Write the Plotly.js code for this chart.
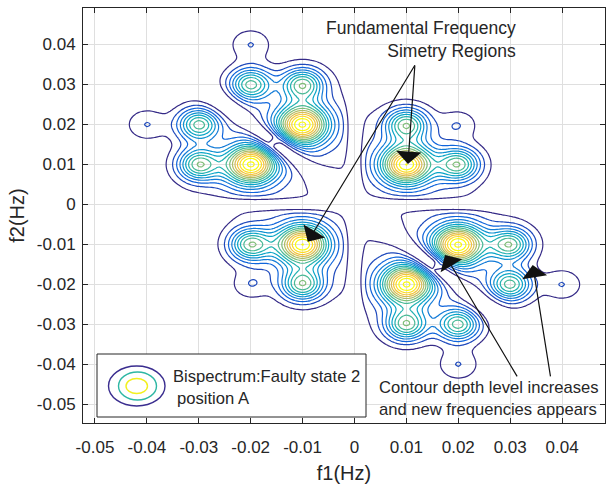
<!DOCTYPE html>
<html>
<head>
<meta charset="utf-8">
<script src="https://cdn.plot.ly/plotly-3.0.1.min.js"></script>
<style>
  html, body { margin: 0; padding: 0; background: #ffffff; }
  #chart { width: 606px; height: 485px; }
</style>
</head>
<body>
<div id="chart"></div>
<script>
// Bispectrum magnitude, modelled as peaks inside the six symmetry regions.
// Main (strongest) peak of each region
const mainF1 = [0.01, -0.01, -0.02, -0.01, 0.01, 0.02];
const mainF2 = [0.01, 0.02, 0.01, -0.01, -0.02, -0.01];
const mainAmp = [0.80, 0.80, 0.80, 0.80, 0.80, 0.80];
const mainWidth = [0.0033, 0.0033, 0.0033, 0.0033, 0.0033, 0.0033];

// Broad skirt around each main peak
const skirtAmp = [0.16, 0.16, 0.16, 0.16, 0.16, 0.16];
const skirtWidth = [0.0066, 0.0066, 0.0066, 0.0066, 0.0066, 0.0066];

// Secondary peaks (two per region)
const sideF1 = [0.02, 0.01, -0.01, -0.02, -0.03, -0.03, -0.02, -0.01, 0.01, 0.02, 0.03, 0.03];
const sideF2 = [0.01, 0.02, 0.03, 0.03, 0.01, 0.02, -0.01, -0.02, -0.03, -0.03, -0.01, -0.02];
const sideAmp = [0.52, 0.52, 0.52, 0.52, 0.52, 0.52, 0.52, 0.52, 0.52, 0.52, 0.52, 0.52];
const sideWidth = [0.0028, 0.0028, 0.0028, 0.0028, 0.0028, 0.0028, 0.0028, 0.0028, 0.0028, 0.0028, 0.0028, 0.0028];

// Weak outer components (the small "ears")
const earF1 = [0.02, -0.02, -0.04, -0.02, 0.02, 0.04];
const earF2 = [0.02, 0.04, 0.02, -0.02, -0.04, -0.02];
const earAmp = [0.10, 0.116, 0.116, 0.10, 0.116, 0.116];
const earWidth = [0.0024, 0.0026, 0.0026, 0.0024, 0.0026, 0.0026];

// Isolated small components lying on the f1 + f2 = 0 line
const gapF1 = [-0.0155, 0.016];
const gapF2 = [0.0157, -0.0155];
const gapAmp = [0.075, 0.075];
const gapWidth = [0.0007, 0.0007];

// Axis ticks
const tickVals = [-0.05, -0.04, -0.03, -0.02, -0.01, 0, 0.01, 0.02, 0.03, 0.04];
const xTickText = ['-0.05', '-0.04', '-0.03', '-0.02', '-0.01', '0', '0.01', '0.02', '0.03', '0.04'];
const yTickText = ['-0.05', '-0.04', '-0.03', '-0.02', '-0.01', '0', '0.01', '0.02', '0.03', '0.04'];

// Contour levels
const levelStart = 0.05, levelEnd = 0.96, levelStep = 0.065;

// ---- surface evaluation ----
const xRange = [-0.05231, 0.04827];
const yRange = [-0.05462, 0.04912];
const step = 0.0005;
const f1Grid = [], f2Grid = [];
for (let v = -0.054; v <= 0.0505; v += step) { f1Grid.push(+v.toFixed(5)); f2Grid.push(+v.toFixed(5)); }

function gsum(a, b, F1, F2, A, W) {
  let s = 0;
  for (let k = 0; k < F1.length; k++) {
    const dx = a - F1[k], dy = b - F2[k];
    s += A[k] * Math.exp(-(dx * dx + dy * dy) / (2 * W[k] * W[k]));
  }
  return s;
}
function notch(d, w) { return 1 - Math.exp(-d * d / (2 * w * w)); }

const z = f2Grid.map(b => f1Grid.map(a => {
  const body = gsum(a, b, mainF1, mainF2, mainAmp, mainWidth) +
               gsum(a, b, mainF1, mainF2, skirtAmp, skirtWidth) +
               gsum(a, b, sideF1, sideF2, sideAmp, sideWidth) +
               gsum(a, b, earF1, earF2, earAmp, earWidth);
  const mask = notch(a, 0.0011) * notch(b, 0.0011) * notch((a + b) / Math.SQRT2, 0.0017);
  return body * mask + gsum(a, b, gapF1, gapF2, gapAmp, gapWidth);
}));

const parula = [
  [0.000, '#352a87'], [0.125, '#0f5cdd'], [0.250, '#1481d6'], [0.375, '#06a4ca'],
  [0.500, '#2eb7a4'], [0.625, '#87bf77'], [0.750, '#d1bb59'], [0.875, '#fec832'],
  [1.000, '#f9fb0e']
];

const trace = {
  type: 'contour',
  x: f1Grid, y: f2Grid, z: z,
  autocontour: false,
  contours: { start: levelStart, end: levelEnd, size: levelStep, coloring: 'lines' },
  zauto: false, zmin: levelStart, zmax: levelEnd,
  colorscale: parula,
  showscale: false,
  line: { width: 1.2, smoothing: 0.8 },
  hoverinfo: 'skip'
};

// plot box in pixels
const box = { l: 83, t: 8, r: 605, b: 423 };
const px = x => (x - box.l) / (box.r - box.l);
const py = y => (box.b - y) / (box.b - box.t);

const fontFam = 'Liberation Sans, Arial, Helvetica, sans-serif';
const ink = '#262626';

const axisCommon = {
  tickvals: tickVals,
  ticks: 'inside', ticklen: 5, tickwidth: 1, tickcolor: ink,
  showline: true, linecolor: ink, linewidth: 1, mirror: 'ticks',
  showgrid: true, gridcolor: '#dfdfdf', gridwidth: 1,
  zeroline: false,
  tickfont: { family: fontFam, size: 17, color: ink },
  fixedrange: true
};

const arrowStyle = { showarrow: true, arrowhead: 1, arrowsize: 3.5, arrowwidth: 1.2, arrowcolor: '#111111', text: '', xref: 'x', yref: 'y' };

const layout = {
  width: 606, height: 485,
  margin: { l: box.l, r: 606 - box.r, t: box.t, b: 485 - box.b },
  paper_bgcolor: '#ffffff', plot_bgcolor: '#ffffff',
  showlegend: false,
  xaxis: Object.assign({}, axisCommon, {
    range: xRange, ticktext: xTickText, ticklabelstandoff: 9,
    title: { text: 'f1(Hz)', font: { family: fontFam, size: 20, color: ink }, standoff: 9 }
  }),
  yaxis: Object.assign({}, axisCommon, {
    range: yRange, ticktext: yTickText, ticklabelstandoff: 3,
    title: { text: 'f2(Hz)', font: { family: fontFam, size: 20, color: ink }, standoff: 6 }
  }),
  shapes: [
    { type: 'rect', xref: 'paper', yref: 'paper', x0: px(97), x1: px(366), y0: py(417), y1: py(354),
      line: { color: ink, width: 1 }, fillcolor: '#ffffff', layer: 'above' },
    { type: 'circle', xref: 'paper', yref: 'paper', x0: px(108.5), x1: px(165), y0: py(406), y1: py(366),
      line: { color: '#3a2d8f', width: 1.4 }, layer: 'above' },
    { type: 'circle', xref: 'paper', yref: 'paper', x0: px(118.5), x1: px(156.5), y0: py(400), y1: py(372),
      line: { color: '#2eb7a4', width: 1.4 }, layer: 'above' },
    { type: 'circle', xref: 'paper', yref: 'paper', x0: px(126), x1: px(147.5), y0: py(393.5), y1: py(378.5),
      line: { color: '#f2f020', width: 1.4 }, layer: 'above' }
  ],
  annotations: [
    Object.assign({}, arrowStyle, { x: 0.0103, y: 0.0101, ax: 7, ay: -100 }),
    Object.assign({}, arrowStyle, { x: -0.0090, y: -0.0093, ax: 108, ay: -178 }),
    Object.assign({}, arrowStyle, { x: 0.01744, y: -0.0126, ax: 73, ay: 123 }),
    Object.assign({}, arrowStyle, { x: 0.03434, y: -0.0151, ax: 18, ay: 113 }),
    { xref: 'paper', yref: 'paper', x: px(518), y: py(39.5), xanchor: 'right', yanchor: 'middle', align: 'right',
      showarrow: false, text: 'Fundamental Frequency<br>Simetry Regions',
      font: { family: fontFam, size: 17.5, color: ink } },
    { xref: 'paper', yref: 'paper', x: px(377), y: py(398), xanchor: 'left', yanchor: 'middle', align: 'left',
      showarrow: false, text: 'Contour depth level increases<br>and new frequencies appears',
      font: { family: fontFam, size: 16.6, color: ink } },
    { xref: 'paper', yref: 'paper', x: px(171), y: py(376), xanchor: 'left', yanchor: 'middle',
      showarrow: false, text: 'Bispectrum:Faulty state 2',
      font: { family: fontFam, size: 16.6, color: ink } },
    { xref: 'paper', yref: 'paper', x: px(175), y: py(398.5), xanchor: 'left', yanchor: 'middle',
      showarrow: false, text: 'position A',
      font: { family: fontFam, size: 16.6, color: ink } }
  ]
};

Plotly.newPlot('chart', [trace], layout, { displayModeBar: false, staticPlot: true });
</script>
</body>
</html>
